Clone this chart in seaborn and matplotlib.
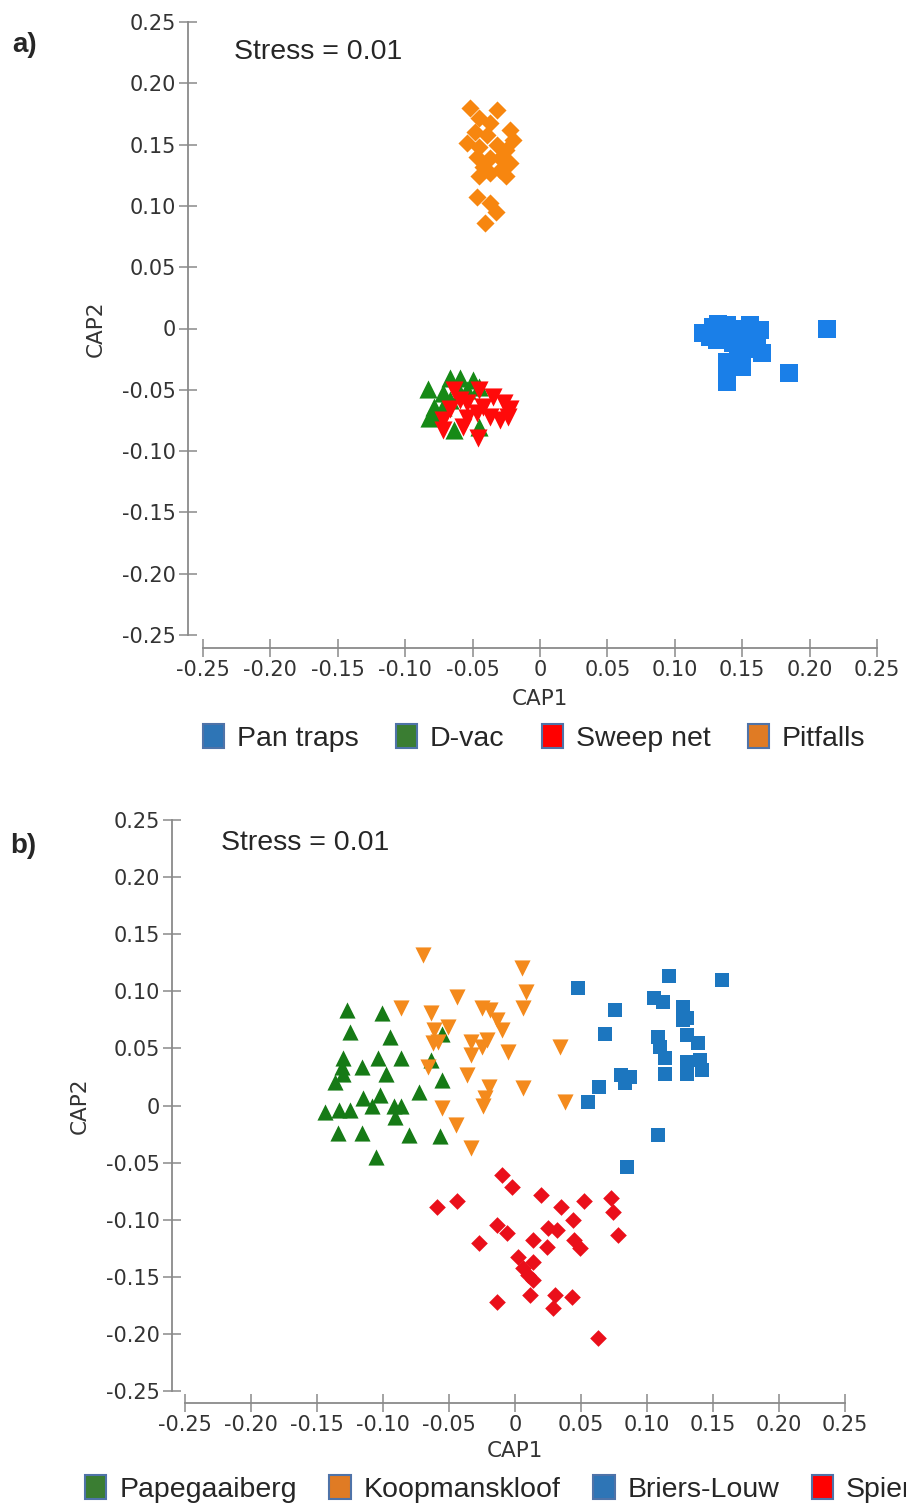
import numpy as np
import pandas as pd
import matplotlib
matplotlib.use("Agg")
import matplotlib.pyplot as plt
from matplotlib.patches import Patch
import seaborn as sns

# ---------------- data: panel a (sampling method) ----------------
pan_x = [0.213, 0.185, 0.139, 0.121, 0.132, 0.139, 0.131, 0.156, 0.163, 0.148,
         0.143, 0.161, 0.165, 0.154, 0.139, 0.150, 0.139, 0.126, 0.157, 0.145,
         0.128, 0.160, 0.147, 0.152]
pan_y = [0.000, -0.036, -0.044, -0.004, 0.004, 0.003, -0.009, 0.003, -0.001, -0.004,
         -0.012, -0.012, -0.020, -0.017, -0.027, -0.031, -0.034, -0.007, -0.007, 0.000,
         0.001, -0.006, -0.022, -0.010]

dvac_x = [-0.083, -0.067, -0.059, -0.050, -0.054, -0.072, -0.079, -0.077, -0.045, -0.064,
          -0.067, -0.059, -0.082, -0.072, -0.045]
dvac_y = [-0.049, -0.040, -0.040, -0.042, -0.050, -0.053, -0.064, -0.071, -0.080, -0.083,
          -0.058, -0.053, -0.073, -0.064, -0.048]

sweep_x = [-0.064, -0.045, -0.035, -0.054, -0.067, -0.042, -0.027, -0.022, -0.072, -0.054,
           -0.037, -0.030, -0.072, -0.057, -0.046, -0.059, -0.047, -0.024]
sweep_y = [-0.050, -0.050, -0.056, -0.061, -0.066, -0.064, -0.061, -0.066, -0.075, -0.073,
           -0.072, -0.075, -0.083, -0.080, -0.089, -0.058, -0.069, -0.072]

pit_x = [-0.052, -0.032, -0.045, -0.037, -0.022, -0.048, -0.039, -0.020, -0.054, -0.045,
         -0.032, -0.025, -0.047, -0.037, -0.030, -0.022, -0.042, -0.030, -0.045, -0.025,
         -0.037, -0.047, -0.037, -0.033, -0.041]
pit_y = [0.180, 0.178, 0.172, 0.168, 0.162, 0.160, 0.158, 0.154, 0.151, 0.148,
         0.150, 0.146, 0.140, 0.139, 0.139, 0.135, 0.132, 0.129, 0.124, 0.124,
         0.127, 0.107, 0.102, 0.095, 0.086]

# ---------------- data: panel b (site) ----------------
pap_x = [-0.127, -0.101, -0.125, -0.095, -0.130, -0.131, -0.130, -0.116, -0.104, -0.086,
         -0.098, -0.136, -0.064, -0.055, -0.073, -0.115, -0.102, -0.108, -0.144, -0.133,
         -0.125, -0.092, -0.086, -0.091, -0.134, -0.116, -0.080, -0.057, -0.105, -0.055]
pap_y = [0.084, 0.081, 0.064, 0.060, 0.042, 0.034, 0.028, 0.034, 0.042, 0.042,
         0.028, 0.021, 0.040, 0.022, 0.012, 0.007, 0.009, 0.000, -0.006, -0.004,
         -0.004, 0.000, 0.000, -0.010, -0.024, -0.024, -0.026, -0.027, -0.045, 0.063]

koop_x = [-0.070, 0.005, -0.044, 0.008, -0.086, -0.064, -0.025, -0.019, 0.006, -0.014,
          -0.051, -0.061, -0.010, -0.062, -0.033, -0.021, -0.025, -0.005, 0.034, -0.033,
          -0.066, -0.036, -0.020, 0.006, -0.023, -0.024, 0.038, -0.055, -0.045, -0.033,
          -0.058]
koop_y = [0.132, 0.120, 0.095, 0.099, 0.085, 0.081, 0.085, 0.084, 0.085, 0.075,
          0.069, 0.066, 0.066, 0.055, 0.056, 0.057, 0.051, 0.047, 0.051, 0.044,
          0.034, 0.027, 0.016, 0.015, 0.007, 0.000, 0.003, -0.002, -0.017, -0.037,
          0.056]

bri_x = [0.048, 0.117, 0.157, 0.105, 0.112, 0.076, 0.127, 0.130, 0.127, 0.068,
         0.108, 0.130, 0.110, 0.139, 0.114, 0.130, 0.140, 0.142, 0.130, 0.114,
         0.080, 0.087, 0.083, 0.064, 0.055, 0.108, 0.085]
bri_y = [0.103, 0.113, 0.110, 0.094, 0.091, 0.084, 0.086, 0.077, 0.075, 0.063,
         0.060, 0.062, 0.051, 0.055, 0.042, 0.038, 0.040, 0.031, 0.028, 0.028,
         0.027, 0.025, 0.020, 0.016, 0.003, -0.026, -0.054]

spi_x = [-0.010, -0.002, -0.059, -0.044, 0.020, 0.035, 0.052, 0.073, 0.074, -0.014,
         -0.006, 0.044, 0.025, 0.032, 0.078, -0.027, 0.014, 0.024, 0.045, 0.049,
         0.002, 0.014, 0.006, 0.010, 0.014, -0.014, 0.011, 0.030, 0.043, 0.029,
         0.063]
spi_y = [-0.061, -0.071, -0.089, -0.084, -0.078, -0.089, -0.084, -0.081, -0.093, -0.105,
         -0.112, -0.100, -0.107, -0.109, -0.113, -0.120, -0.118, -0.124, -0.118, -0.125,
         -0.133, -0.137, -0.142, -0.148, -0.153, -0.172, -0.166, -0.166, -0.168, -0.177,
         -0.204]

methods = ["Pan traps", "D-vac", "Sweep net", "Pitfalls"]
sites = ["Papegaaiberg", "Koopmanskloof", "Briers-Louw", "Spier"]
tick_vals = [-0.25, -0.20, -0.15, -0.10, -0.05, 0.0, 0.05, 0.10, 0.15, 0.20, 0.25]
tick_labels = ["-0.25", "-0.20", "-0.15", "-0.10", "-0.05", "0",
               "0.05", "0.10", "0.15", "0.20", "0.25"]

# ---------------- styling ----------------
sns.set_theme(style="white")
plt.rcParams["font.family"] = ["Liberation Sans", "DejaVu Sans"]

W, H = 906, 1507
fig = plt.figure(figsize=(W / 100, H / 100), dpi=100)

def px_axes(x0, y0, x1, y1):
    return fig.add_axes([x0 / W, 1 - y1 / H, (x1 - x0) / W, (y1 - y0) / H])

ax_a = px_axes(203, 22, 877, 635)
ax_b = px_axes(185, 820, 845, 1391)

def build(groups):
    rows = []
    for name, xs, ys in groups:
        for x, y in zip(xs, ys):
            rows.append((name, x, y))
    return pd.DataFrame(rows, columns=["group", "CAP1", "CAP2"])

df_a = build([(methods[0], pan_x, pan_y), (methods[1], dvac_x, dvac_y),
              (methods[2], sweep_x, sweep_y), (methods[3], pit_x, pit_y)])
df_b = build([(sites[0], pap_x, pap_y), (sites[1], koop_x, koop_y),
              (sites[2], bri_x, bri_y), (sites[3], spi_x, spi_y)])

style_a = {
    "Pan traps": ("s", 150, "#1a7fe8"),
    "D-vac": ("^", 170, "#168a16"),
    "Sweep net": ("v", 170, "#ff0a0a"),
    "Pitfalls": ("D", 85, "#f7860f"),
}
style_b = {
    "Papegaaiberg": ("^", 135, "#167a16"),
    "Koopmanskloof": ("v", 135, "#f48a1c"),
    "Briers-Louw": ("s", 115, "#1c76bf"),
    "Spier": ("D", 72, "#ea0f1a"),
}

for ax, df, order, st in [(ax_a, df_a, methods, style_a), (ax_b, df_b, sites, style_b)]:
    for g in order:
        m, s, c = st[g]
        sub = df[df["group"] == g]
        sns.scatterplot(data=sub, x="CAP1", y="CAP2", ax=ax, marker=m, s=s,
                        color=c, linewidth=0, legend=False)

def style_axes(ax, off_left, off_bottom, ylab_x, xlab_y):
    ax.set_xlim(-0.25, 0.25)
    ax.set_ylim(-0.25, 0.25)
    ax.set_xticks(tick_vals)
    ax.set_yticks(tick_vals)
    ax.set_xticklabels(tick_labels)
    ax.set_yticklabels(tick_labels)
    for sp in ["top", "right"]:
        ax.spines[sp].set_visible(False)
    ax.spines["left"].set_position(("outward", off_left))
    ax.spines["bottom"].set_position(("outward", off_bottom))
    for sp in ["left", "bottom"]:
        ax.spines[sp].set_color("#8a8a8a")
        ax.spines[sp].set_linewidth(1.3)
    ax.tick_params(axis="both", direction="inout", length=13, width=1.1,
                   color="#8a8a8a", pad=2, left=True, bottom=True,
                   labelsize=15, labelcolor="#333333", labelfontfamily="DejaVu Sans")
    ax.set_xlabel("CAP1", family="DejaVu Sans", fontsize=15.5, color="#333333")
    ax.set_ylabel("CAP2", family="DejaVu Sans", fontsize=15.5, color="#333333")
    ax.xaxis.set_label_coords(0.5, xlab_y)
    ax.yaxis.set_label_coords(ylab_x, 0.5)
    ax.set_facecolor("white")
    ax.grid(False)

style_axes(ax_a, 10.8, 9.4, -0.145, -0.088)
style_axes(ax_b, 9.4, 8.6, -0.144, -0.088)

# panel labels and stress text
fig.text(12 / W, 1 - 45 / H, "a)", fontsize=20, fontweight="bold", va="center", ha="left")
fig.text(10 / W, 1 - 846 / H, "b)", fontsize=20, fontweight="bold", va="center", ha="left")
fig.text(234 / W, 1 - 52 / H, "Stress = 0.01", fontsize=20.5, va="center", ha="left")
fig.text(221 / W, 1 - 843 / H, "Stress = 0.01", fontsize=20.5, va="center", ha="left")

# legends
leg_a_cols = ["#2e75b6", "#3a7d32", "#ff0000", "#e07b24"]
leg_b_cols = ["#3a7d32", "#e07b24", "#2e75b6", "#ff0000"]
edge = "#4f73a8"

def add_legend(labels, cols, x, y, colsp):
    handles = [Patch(facecolor=c, edgecolor=edge, linewidth=1.5) for c in cols]
    fig.legend(handles, labels, loc="center left", bbox_to_anchor=(x / W, 1 - y / H),
               ncol=4, frameon=False, fontsize=20.5, handlelength=0.75, handleheight=0.9,
               handletextpad=0.45, columnspacing=colsp, borderpad=0, borderaxespad=0)

add_legend(methods, leg_a_cols, 203, 738, 1.3)
add_legend(sites, leg_b_cols, 85, 1489, 1.15)

fig.savefig("out.png", dpi=100, facecolor="white")
